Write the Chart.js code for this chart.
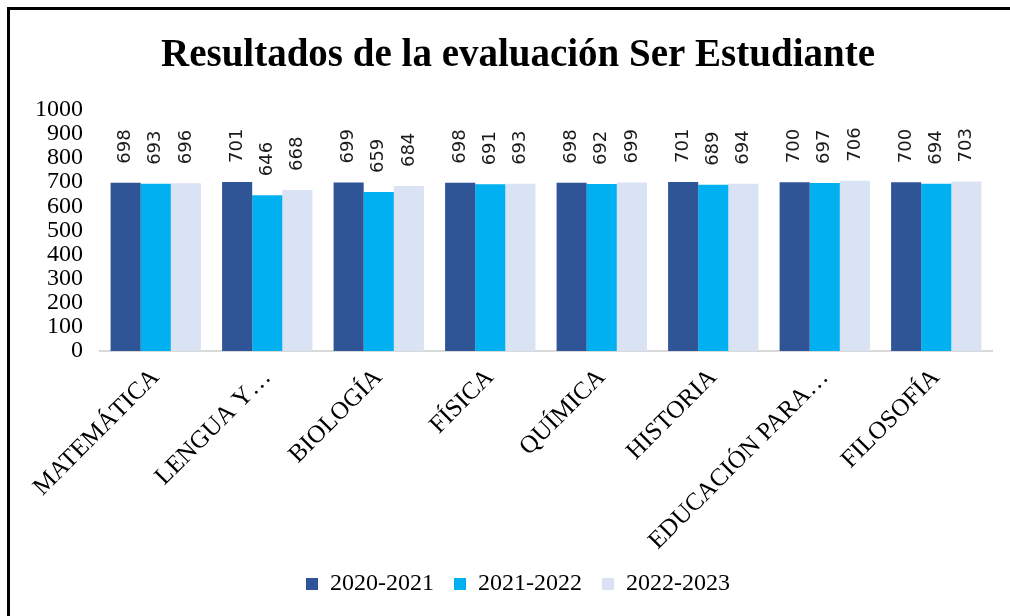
<!DOCTYPE html>
<html>
<head>
<meta charset="utf-8">
<script src="https://cdn.jsdelivr.net/npm/chart.js@4/dist/chart.umd.min.js"></script>
<style>
  html, body { margin: 0; padding: 0; background: #fff; }
  #wrap { width: 1010px; height: 616px; position: relative; }
</style>
</head>
<body>
<div id="wrap"><canvas id="chart"></canvas></div>
<script>
// data
const categories = ['MATEMÁTICA', 'LENGUA Y…', 'BIOLOGÍA', 'FÍSICA', 'QUÍMICA', 'HISTORIA', 'EDUCACIÓN PARA…', 'FILOSOFÍA'];
const seriesNames = ['2020-2021', '2021-2022', '2022-2023'];
const values2020 = [698, 701, 699, 698, 698, 701, 700, 700];
const values2021 = [693, 646, 659, 691, 692, 689, 697, 694];
const values2022 = [696, 668, 684, 693, 699, 694, 706, 703];
const yTicks = [0, 100, 200, 300, 400, 500, 600, 700, 800, 900, 1000];

const colors = ['#2F5597', '#00B0F0', '#DAE3F3'];
const serif = '"Liberation Serif", "Times New Roman", serif';

// frame round the picture
const framePlugin = {
  id: 'frame',
  beforeDraw(chart) {
    const c = chart.ctx;
    c.save();
    c.fillStyle = '#fff';
    c.fillRect(0, 0, chart.width, chart.height);
    c.fillStyle = '#000';
    c.fillRect(7, 7, 3, chart.height);
    c.fillRect(7, 7, chart.width, 3);
    c.restore();
  }
};

// title and legend sit a bit right of the canvas centre in the original
const shiftBlocks = {
  id: 'shiftBlocks',
  afterLayout(chart) {
    [chart.titleBlock, chart.legend].forEach(b => {
      if (!b) return;
      b.left += 12;
      b.right += 12;
    });
  }
};

// vertical value labels above bars
const valueLabels = {
  id: 'valueLabels',
  afterDatasetsDraw(chart) {
    const c = chart.ctx;
    c.save();
    c.font = '18px "DejaVu Sans", sans-serif';
    c.fillStyle = '#1a1a1a';
    c.textAlign = 'left';
    c.textBaseline = 'middle';
    chart.data.datasets.forEach((ds, i) => {
      chart.getDatasetMeta(i).data.forEach((bar, j) => {
        c.save();
        c.translate(bar.x, bar.y - 19);
        c.rotate(-Math.PI / 2);
        c.fillText(String(ds.data[j]), 0, 0);
        c.restore();
      });
    });
    c.restore();
  }
};

const ctx = document.getElementById('chart');
new Chart(ctx, {
  type: 'bar',
  data: {
    labels: categories,
    datasets: [values2020, values2021, values2022].map((vals, i) => ({
      label: seriesNames[i],
      data: vals,
      backgroundColor: colors[i],
      borderWidth: 0,
      categoryPercentage: 0.81,
      barPercentage: 1
    }))
  },
  options: {
    responsive: true,
    maintainAspectRatio: false,
    animation: false,
    layout: { padding: { left: 20, right: 18, top: 33, bottom: 10 } },
    plugins: {
      title: {
        display: true,
        text: 'Resultados de la evaluación Ser Estudiante',
        color: '#000',
        font: { family: serif, size: 39, weight: 'bold' },
        padding: { top: 0, bottom: 30 }
      },
      legend: {
        position: 'bottom',
        labels: {
          color: '#000',
          font: { family: serif, size: 24 },
          boxWidth: 12,
          boxHeight: 12,
          padding: 20
        }
      },
      tooltip: { enabled: false }
    },
    scales: {
      x: {
        grid: { display: false },
        border: { display: true, color: '#D9D9D9', width: 2 },
        afterFit(scale) { scale.height -= 8; },
        ticks: {
          color: '#000',
          font: { family: serif, size: 25 },
          maxRotation: 45,
          minRotation: 45,
          autoSkip: false,
          padding: 4
        }
      },
      y: {
        min: 0,
        max: 1000,
        afterBuildTicks(scale) { scale.ticks = yTicks.map(v => ({ value: v })); },
        afterFit(scale) { scale.width = 80; },
        grid: { display: false },
        border: { display: false },
        ticks: {
          color: '#000',
          font: { family: serif, size: 24 },
          autoSkip: false,
          padding: 9,
          callback: v => String(v)
        }
      }
    }
  },
  plugins: [framePlugin, shiftBlocks, valueLabels]
});
</script>
</body>
</html>
